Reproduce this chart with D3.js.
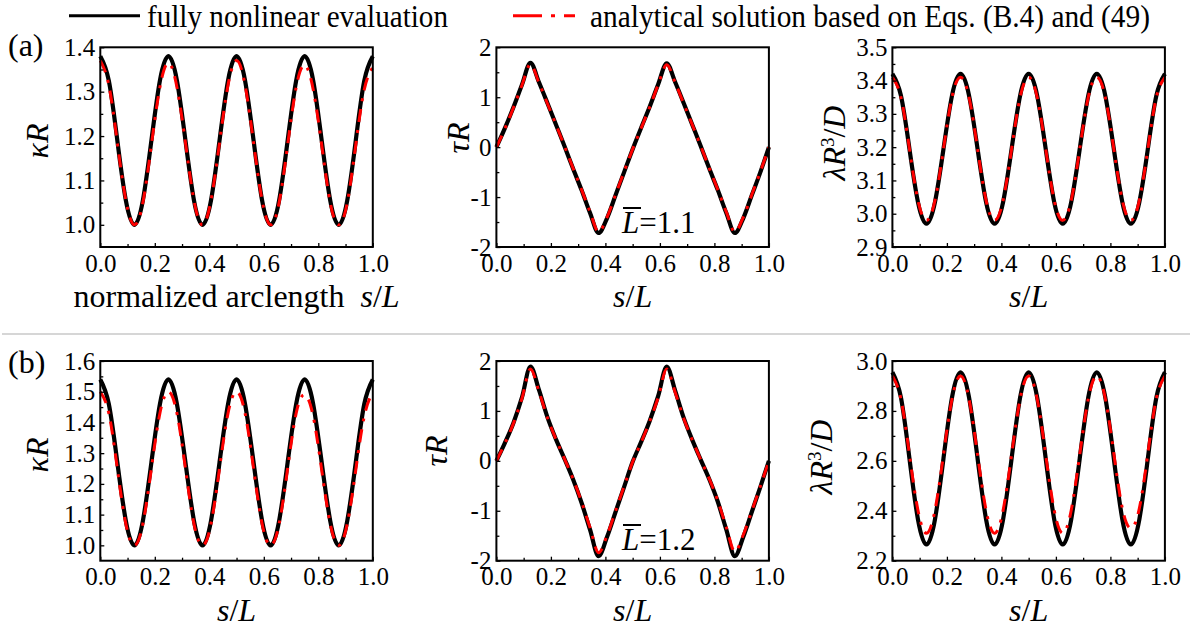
<!DOCTYPE html>
<html>
<head>
<meta charset="utf-8">
<script src="https://cdn.jsdelivr.net/npm/d3@7"></script>
<style>
  body { margin: 0; background: #fff; }
  svg text { font-family: 'Liberation Serif', 'Times New Roman', Tinos, 'DejaVu Serif', serif; fill: #000; }
</style>
</head>
<body>
<script>
// arclength grid s/L
var sGrid = [0, 0.03125, 0.0625, 0.09375, 0.125, 0.15625, 0.1875, 0.21875,
  0.25, 0.28125, 0.3125, 0.34375, 0.375, 0.40625, 0.4375, 0.46875,
  0.5, 0.53125, 0.5625, 0.59375, 0.625, 0.65625, 0.6875, 0.71875,
  0.75, 0.78125, 0.8125, 0.84375, 0.875, 0.90625, 0.9375, 0.96875, 1];

// (a) Lbar = 1.1
var kappaA_num = [1.38, 1.325, 1.19, 1.055, 1.00, 1.055, 1.19, 1.325,
  1.38, 1.325, 1.19, 1.055, 1.00, 1.055, 1.19, 1.325,
  1.38, 1.325, 1.19, 1.055, 1.00, 1.055, 1.19, 1.325,
  1.38, 1.325, 1.19, 1.055, 1.00, 1.055, 1.19, 1.325, 1.38];
var kappaA_ana = [1.37, 1.315, 1.185, 1.055, 1.00, 1.05, 1.18, 1.31,
  1.365, 1.31, 1.185, 1.055, 1.00, 1.055, 1.185, 1.315,
  1.37, 1.315, 1.185, 1.055, 1.00, 1.05, 1.18, 1.31,
  1.36, 1.305, 1.18, 1.05, 1.00, 1.05, 1.18, 1.305, 1.355];
var tauA_num = [0, 0.38, 0.80, 1.25, 1.69, 1.30, 0.88, 0.45,
  0.02, -0.43, -0.86, -1.32, -1.72, -1.42, -0.96, -0.50,
  -0.04, 0.39, 0.81, 1.26, 1.68, 1.30, 0.88, 0.45,
  0.02, -0.43, -0.86, -1.32, -1.72, -1.42, -0.96, -0.50, 0];
var tauA_ana = [0, 0.37, 0.79, 1.24, 1.66, 1.29, 0.87, 0.45,
  0.02, -0.42, -0.85, -1.30, -1.70, -1.40, -0.95, -0.49,
  -0.04, 0.38, 0.80, 1.25, 1.65, 1.29, 0.87, 0.45,
  0.02, -0.42, -0.85, -1.30, -1.70, -1.40, -0.95, -0.49, 0];
var lambdaA_num = [3.42, 3.355, 3.195, 3.035, 2.97, 3.035, 3.195, 3.355,
  3.42, 3.355, 3.195, 3.035, 2.97, 3.035, 3.195, 3.355,
  3.42, 3.355, 3.195, 3.035, 2.97, 3.035, 3.195, 3.355,
  3.42, 3.355, 3.195, 3.035, 2.97, 3.035, 3.195, 3.355, 3.42];
var lambdaA_ana = [3.41, 3.35, 3.195, 3.04, 2.98, 3.04, 3.195, 3.35,
  3.41, 3.35, 3.195, 3.04, 2.98, 3.04, 3.195, 3.35,
  3.41, 3.35, 3.195, 3.04, 2.98, 3.04, 3.195, 3.35,
  3.41, 3.35, 3.195, 3.04, 2.98, 3.04, 3.195, 3.35, 3.41];

// (b) Lbar = 1.2
var kappaB_num = [1.54, 1.46, 1.27, 1.08, 1.00, 1.08, 1.27, 1.46,
  1.54, 1.46, 1.27, 1.08, 1.00, 1.08, 1.27, 1.46,
  1.54, 1.46, 1.27, 1.08, 1.00, 1.08, 1.27, 1.46,
  1.54, 1.46, 1.27, 1.08, 1.00, 1.08, 1.27, 1.46, 1.54];
var kappaB_ana = [1.50, 1.43, 1.25, 1.07, 1.00, 1.07, 1.25, 1.43,
  1.50, 1.43, 1.25, 1.07, 1.00, 1.07, 1.25, 1.43,
  1.50, 1.43, 1.25, 1.07, 1.00, 1.07, 1.25, 1.43,
  1.49, 1.42, 1.245, 1.07, 1.00, 1.07, 1.245, 1.42, 1.50];
var tauB_num = [0, 0.36, 0.76, 1.27, 1.89, 1.42, 0.87, 0.43,
  0.04, -0.37, -0.84, -1.38, -1.91, -1.52, -1.02, -0.52,
  -0.02, 0.38, 0.80, 1.30, 1.89, 1.40, 0.86, 0.42,
  0.02, -0.37, -0.82, -1.38, -1.91, -1.52, -1.02, -0.52, 0];
var tauB_ana = [0, 0.35, 0.75, 1.25, 1.84, 1.39, 0.86, 0.43,
  0.04, -0.36, -0.82, -1.34, -1.84, -1.49, -1.00, -0.51,
  -0.02, 0.37, 0.79, 1.27, 1.84, 1.37, 0.85, 0.42,
  0.02, -0.36, -0.80, -1.33, -1.82, -1.48, -1.00, -0.51, 0];
var lambdaB_num = [2.955, 2.854, 2.61, 2.366, 2.265, 2.366, 2.61, 2.854,
  2.955, 2.854, 2.61, 2.366, 2.265, 2.366, 2.61, 2.854,
  2.955, 2.854, 2.61, 2.366, 2.265, 2.366, 2.61, 2.854,
  2.955, 2.854, 2.61, 2.366, 2.265, 2.366, 2.61, 2.854, 2.955];
var lambdaB_ana = [2.94, 2.848, 2.625, 2.402, 2.31, 2.402, 2.625, 2.848,
  2.94, 2.848, 2.625, 2.402, 2.31, 2.402, 2.625, 2.848,
  2.94, 2.848, 2.625, 2.402, 2.31, 2.402, 2.625, 2.848,
  2.94, 2.85, 2.63, 2.41, 2.33, 2.41, 2.63, 2.85, 2.94];

// ticks
var xTicks = [0, 0.2, 0.4, 0.6, 0.8, 1.0];
var xMinor = [0.1, 0.3, 0.5, 0.7, 0.9];
var kappaA_ticks = [1.0, 1.1, 1.2, 1.3, 1.4];
var kappaA_minor = [1.05, 1.15, 1.25, 1.35];
var tau_ticks = [-2, -1, 0, 1, 2];
var tau_minor = [-1.5, -0.5, 0.5, 1.5];
var lambdaA_ticks = [2.9, 3.0, 3.1, 3.2, 3.3, 3.4, 3.5];
var lambdaA_minor = [2.95, 3.05, 3.15, 3.25, 3.35, 3.45];
var kappaB_ticks = [1.0, 1.1, 1.2, 1.3, 1.4, 1.5, 1.6];
var kappaB_minor = [1.05, 1.15, 1.25, 1.35, 1.45, 1.55];
var lambdaB_ticks = [2.2, 2.4, 2.6, 2.8, 3.0];
var lambdaB_minor = [2.3, 2.5, 2.7, 2.9];

var legendLabels = ['fully nonlinear evaluation', 'analytical solution based on Eqs. (B.4) and (49)'];
var rowLabels = ['(a)', '(b)'];
var lbarLabels = ['=1.1', '=1.2'];

var serif = "'Liberation Serif', 'Times New Roman', Tinos, 'DejaVu Serif', serif";

var svg = d3.select('body').append('svg')
  .attr('width', 1192)
  .attr('height', 631)
  .attr('font-family', serif);

var cols = [100.3, 496.4, 892.4];
var rows = [47.3, 361];
var pw = 272.5, ph = 199.7;

var panels = [
  {row: 0, col: 0, num: kappaA_num, ana: kappaA_ana, dom: [0.95, 1.4], ticks: kappaA_ticks, minor: kappaA_minor, fmt: d3.format('.1f'), yl: 'kappa', ylx: 47.5, yly: 141},
  {row: 0, col: 1, num: tauA_num, ana: tauA_ana, dom: [-2, 2], ticks: tau_ticks, minor: tau_minor, fmt: String, yl: 'tau', ylx: 469, yly: 138},
  {row: 0, col: 2, num: lambdaA_num, ana: lambdaA_ana, dom: [2.9, 3.5], ticks: lambdaA_ticks, minor: lambdaA_minor, fmt: d3.format('.1f'), yl: 'lambda', ylx: 845, yly: 143},
  {row: 1, col: 0, num: kappaB_num, ana: kappaB_ana, dom: [0.95, 1.6], ticks: kappaB_ticks, minor: kappaB_minor, fmt: d3.format('.1f'), yl: 'kappa', ylx: 47.5, yly: 455},
  {row: 1, col: 1, num: tauB_num, ana: tauB_ana, dom: [-2, 2], ticks: tau_ticks, minor: tau_minor, fmt: String, yl: 'tau', ylx: 447, yly: 451},
  {row: 1, col: 2, num: lambdaB_num, ana: lambdaB_ana, dom: [2.2, 3.0], ticks: lambdaB_ticks, minor: lambdaB_minor, fmt: d3.format('.1f'), yl: 'lambda', ylx: 832, yly: 457}
];

panels.forEach(function (p) {
  var x0 = cols[p.col], y0 = rows[p.row];
  var x = d3.scaleLinear().domain([0, 1]).range([x0, x0 + pw]);
  var y = d3.scaleLinear().domain(p.dom).range([y0 + ph, y0]);
  var g = svg.append('g');

  // torsion has sharp peaks, so no overshooting spline there
  var curve = p.yl === 'tau' ? d3.curveMonotoneX : d3.curveNatural;
  var line = function (vals) {
    return d3.line()
      .x(function (d, i) { return x(sGrid[i]); })
      .y(function (d) { return y(d); })
      .curve(curve)(vals);
  };
  g.append('path').attr('d', line(p.num))
    .attr('fill', 'none').attr('stroke', '#000').attr('stroke-width', 4.2);
  g.append('path').attr('d', line(p.ana))
    .attr('fill', 'none').attr('stroke', '#ff0000').attr('stroke-width', 3)
    .attr('stroke-dasharray', '13,8,3,8');

  // axes
  var xa = g.append('g').attr('transform', 'translate(0,' + (y0 + ph) + ')')
    .call(d3.axisBottom(x).tickValues(xTicks).tickSize(-4).tickPadding(7).tickFormat(d3.format('.1f')));
  var xm = g.append('g').attr('transform', 'translate(0,' + (y0 + ph) + ')')
    .call(d3.axisBottom(x).tickValues(xMinor).tickSize(-3).tickFormat(''));
  var ya = g.append('g').attr('transform', 'translate(' + x0 + ',0)')
    .call(d3.axisLeft(y).tickValues(p.ticks).tickSize(-4).tickPadding(5).tickFormat(p.fmt));
  var ym = g.append('g').attr('transform', 'translate(' + x0 + ',0)')
    .call(d3.axisLeft(y).tickValues(p.minor).tickSize(-3).tickFormat(''));
  [xa, xm, ya, ym].forEach(function (a) {
    a.attr('font-family', serif).attr('font-size', 25);
    a.select('.domain').remove();
    a.selectAll('line').attr('stroke', '#000').attr('stroke-width', 1.3);
    a.selectAll('text').attr('fill', '#000');
  });

  // frame
  g.append('rect').attr('x', x0).attr('y', y0).attr('width', pw).attr('height', ph)
    .attr('fill', 'none').attr('stroke', '#000').attr('stroke-width', 2);

  // y label
  var yt = g.append('text')
    .attr('transform', 'translate(' + p.ylx + ',' + p.yly + ') rotate(-90)')
    .attr('text-anchor', 'middle').attr('font-size', 32);
  if (p.yl === 'kappa') {
    yt.append('tspan').attr('font-style', 'italic').text('κR');
  } else if (p.yl === 'tau') {
    yt.append('tspan').attr('font-style', 'italic').text('τR');
  } else {
    yt.append('tspan').attr('font-style', 'italic').text('λR');
    yt.append('tspan').attr('dy', -11).attr('font-size', 19).text('3');
    yt.append('tspan').attr('dy', 11).text('/');
    yt.append('tspan').attr('font-style', 'italic').text('D');
  }

  // x label
  var xt = g.append('text').attr('x', x0 + pw / 2).attr('y', y0 + ph + 60)
    .attr('text-anchor', 'middle').attr('font-size', 32);
  if (p.row === 0 && p.col === 0) {
    xt.append('tspan').text('normalized arclength\u00a0\u00a0');
  }
  xt.append('tspan').attr('font-style', 'italic').text('s');
  xt.append('tspan').text('/');
  xt.append('tspan').attr('font-style', 'italic').text('L');
});

// Lbar annotations
[0, 1].forEach(function (r) {
  var base = r === 0 ? 233 : 550;
  var t = svg.append('text').attr('x', 622).attr('y', base).attr('font-size', 31);
  t.append('tspan').attr('font-style', 'italic').text('L');
  t.append('tspan').text(lbarLabels[r]);
  svg.append('line').attr('x1', 623).attr('x2', 641)
    .attr('y1', base - 25).attr('y2', base - 25)
    .attr('stroke', '#000').attr('stroke-width', 2);
});

// row labels
svg.append('text').attr('x', 8).attr('y', 56).attr('font-size', 32).text(rowLabels[0]);
svg.append('text').attr('x', 8).attr('y', 373).attr('font-size', 32).text(rowLabels[1]);

// separator
svg.append('line').attr('x1', 2).attr('x2', 1190).attr('y1', 334).attr('y2', 334)
  .attr('stroke', '#c8c8c8').attr('stroke-width', 1.6);

// legend
svg.append('line').attr('x1', 69).attr('x2', 140).attr('y1', 15.7).attr('y2', 15.7)
  .attr('stroke', '#000').attr('stroke-width', 3);
svg.append('text').attr('x', 147).attr('y', 26.7).attr('font-size', 31)
  .attr('textLength', 301).attr('lengthAdjust', 'spacingAndGlyphs').text(legendLabels[0]);
svg.append('line').attr('x1', 513).attr('x2', 575).attr('y1', 15.7).attr('y2', 15.7)
  .attr('stroke', '#ff0000').attr('stroke-width', 3).attr('stroke-dasharray', '29,9,4,9');
svg.append('text').attr('x', 590).attr('y', 26.7).attr('font-size', 31)
  .attr('textLength', 560).attr('lengthAdjust', 'spacingAndGlyphs').text(legendLabels[1]);
</script>
</body>
</html>
